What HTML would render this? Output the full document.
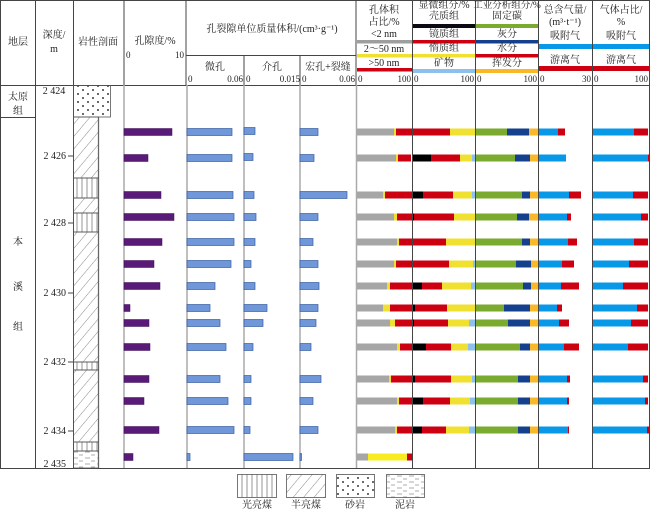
<!DOCTYPE html>
<html><head><meta charset="utf-8"><style>
body{margin:0;background:#fff}
svg{display:block;font-family:"Liberation Serif","Noto Serif CJK SC",serif}
text{font-size:10px;fill:#222}
.c{text-anchor:middle}
.e{text-anchor:end}
.s{font-size:9px}
</style></head><body>
<svg width="650" height="512" viewBox="0 0 650 512">
<defs>
<pattern id="hat" width="8" height="8" patternUnits="userSpaceOnUse" patternTransform="rotate(40)"><line x1="0" y1="0" x2="0" y2="8" stroke="#555" stroke-width="0.7"/></pattern>
<pattern id="vert" width="5" height="10" patternUnits="userSpaceOnUse"><line x1="2" y1="0" x2="2" y2="10" stroke="#666" stroke-width="0.7"/></pattern>
<pattern id="dot" width="10" height="8" patternUnits="userSpaceOnUse"><circle cx="3" cy="2" r="0.9" fill="#000"/><circle cx="8" cy="6" r="0.9" fill="#000"/></pattern>
<pattern id="mud" width="12" height="6" patternUnits="userSpaceOnUse"><line x1="1" y1="2" x2="6" y2="2" stroke="#777" stroke-width="0.6"/><line x1="7" y1="5" x2="11" y2="5" stroke="#777" stroke-width="0.6"/></pattern>
</defs>
<!-- frame -->
<g stroke="#444" stroke-width="1" fill="none">
<line x1="0" y1="0.5" x2="650" y2="0.5"/>
<line x1="0.5" y1="0" x2="0.5" y2="468"/>
<line x1="649.5" y1="0" x2="649.5" y2="468"/>
<line x1="0" y1="85.5" x2="650" y2="85.5"/>
<line x1="0" y1="468.5" x2="650" y2="468.5"/>
<line x1="186" y1="55.5" x2="356" y2="55.5"/>
<line x1="0" y1="117.5" x2="35" y2="117.5"/>
<line x1="35.5" y1="0" x2="35.5" y2="468"/>
<line x1="73.5" y1="0" x2="73.5" y2="468"/>
<line x1="124" y1="0" x2="124" y2="85"/>
<line x1="186" y1="0" x2="186" y2="85"/>
<line x1="244" y1="55" x2="244" y2="85"/>
<line x1="300" y1="55" x2="300" y2="85"/>
<line x1="356" y1="0" x2="356" y2="85"/>
<line x1="412.5" y1="0" x2="412.5" y2="468"/>
<line x1="475.5" y1="0" x2="475.5" y2="468"/>
<line x1="538.5" y1="0" x2="538.5" y2="468"/>
<line x1="592.5" y1="0" x2="592.5" y2="468"/>
</g>
<g stroke="#aaa" stroke-width="1.5">
<line x1="124" y1="85" x2="124" y2="468"/>
<line x1="187" y1="85" x2="187" y2="468"/>
<line x1="244" y1="85" x2="244" y2="468"/>
<line x1="300" y1="85" x2="300" y2="468"/>
<line x1="356.5" y1="85" x2="356.5" y2="468"/>
<line x1="98.5" y1="117" x2="98.5" y2="468"/>
</g>
<!-- header text -->
<text x="18" y="45" class="c">地层</text>
<text x="54" y="38" class="c">深度/</text>
<text x="54" y="52" class="c">m</text>
<text x="98" y="45" class="c">岩性剖面</text>
<text x="155" y="44" class="c">孔隙度/%</text>
<text x="126" y="58" class="s">0</text><text x="184" y="58" class="e s">10</text>
<text x="272" y="32" class="c">孔裂隙单位质量体积/(cm³·g⁻¹)</text>
<text x="215" y="70" class="c">微孔</text>
<text x="272" y="70" class="c">介孔</text>
<text x="328" y="70" class="c">宏孔+裂缝</text>
<text x="188" y="82" class="s">0</text><text x="243" y="82" class="e s">0.06</text>
<text x="246" y="82" class="s">0</text><text x="300" y="82" class="e s">0.015</text>
<text x="302" y="82" class="s">0</text><text x="355" y="82" class="e s">0.06</text>
<!-- pore pct header -->
<text x="384" y="13" class="c">孔体积</text>
<text x="384" y="25" class="c">占比/%</text>
<text x="384" y="37" class="c">&lt;2 nm</text>
<rect x="357" y="40" width="55" height="3.5" fill="#9e9e9e"/>
<text x="384" y="52" class="c">2～50 nm</text>
<rect x="357" y="54" width="55" height="3.5" fill="#f0e030"/>
<text x="384" y="66" class="c">&gt;50 nm</text>
<rect x="357" y="68" width="55" height="3.5" fill="#cc0010"/>
<text x="358" y="82" class="s">0</text><text x="411" y="82" class="e s">100</text>
<!-- maceral header -->
<text x="444" y="8" class="c">显微组分/%</text>
<text x="444" y="19" class="c">壳质组</text>
<rect x="413" y="24" width="62" height="4" fill="#0a0a14"/>
<text x="444" y="37" class="c">镜质组</text>
<rect x="413" y="40" width="62" height="3.5" fill="#cc0010"/>
<text x="444" y="51" class="c">惰质组</text>
<rect x="413" y="54" width="62" height="3.5" fill="#f0e030"/>
<text x="444" y="66" class="c">矿物</text>
<rect x="413" y="69" width="62" height="4" fill="#8ec0ee"/>
<text x="414" y="82" class="s">0</text><text x="474" y="82" class="e s">100</text>
<!-- industrial header -->
<text x="507" y="8" class="c" style="font-size:9.5px">工业分析组分/%</text>
<text x="507" y="19" class="c">固定碳</text>
<rect x="476" y="24" width="62" height="4" fill="#7aaa2e"/>
<text x="507" y="37" class="c">灰分</text>
<rect x="476" y="40" width="62" height="3.5" fill="#15408e"/>
<text x="507" y="51" class="c">水分</text>
<rect x="476" y="54" width="62" height="3.5" fill="#cc0010"/>
<text x="507" y="66" class="c">挥发分</text>
<rect x="476" y="69" width="62" height="4" fill="#f8b828"/>
<text x="477" y="82" class="s">0</text><text x="537" y="82" class="e s">100</text>
<!-- gas content header -->
<text x="565" y="13" class="c">总含气量/</text>
<text x="565" y="25" class="c">(m³·t⁻¹)</text>
<text x="565" y="39" class="c">吸附气</text>
<rect x="539" y="44" width="53" height="5" fill="#0898e8"/>
<text x="565" y="63" class="c">游离气</text>
<rect x="539" y="66" width="53" height="5" fill="#cc0010"/>
<text x="540" y="82" class="s">0</text><text x="591" y="82" class="e s">30</text>
<text x="621" y="13" class="c">气体占比/</text>
<text x="621" y="25" class="c">%</text>
<text x="621" y="39" class="c">吸附气</text>
<rect x="593" y="44" width="56" height="5" fill="#0898e8"/>
<text x="621" y="63" class="c">游离气</text>
<rect x="593" y="66" width="56" height="5" fill="#cc0010"/>
<text x="594" y="82" class="s">0</text><text x="648" y="82" class="e s">100</text>
<!-- strata -->
<text x="18" y="100" class="c">太原</text>
<text x="18" y="114" class="c">组</text>
<text x="18" y="245" class="c">本</text>
<text x="18" y="290" class="c">溪</text>
<text x="18" y="330" class="c">组</text>
<!-- depth -->
<g stroke="#444"><line x1="68" y1="156" x2="73" y2="156"/><line x1="68" y1="223" x2="73" y2="223"/><line x1="68" y1="293" x2="73" y2="293"/><line x1="68" y1="362" x2="73" y2="362"/><line x1="68" y1="431" x2="73" y2="431"/></g>
<text x="54" y="94" class="c">2 424</text>
<text x="66" y="159" class="e">2 426</text>
<text x="66" y="226" class="e">2 428</text>
<text x="66" y="296" class="e">2 430</text>
<text x="66" y="365" class="e">2 432</text>
<text x="66" y="434" class="e">2 434</text>
<text x="66" y="467" class="e">2 435</text>
<!-- lithology -->
<g stroke="#555" stroke-width="0.8">
<rect x="73.5" y="85.5" width="37" height="31.5" fill="url(#dot)"/>
<rect x="73.5" y="117" width="25" height="61" fill="url(#hat)"/>
<rect x="73.5" y="178" width="25" height="20" fill="url(#vert)"/>
<rect x="73.5" y="198" width="25" height="15" fill="url(#hat)"/>
<rect x="73.5" y="213" width="25" height="19" fill="url(#vert)"/>
<rect x="73.5" y="232" width="25" height="130" fill="url(#hat)"/>
<rect x="73.5" y="362" width="25" height="8" fill="url(#vert)"/>
<rect x="73.5" y="370" width="25" height="72" fill="url(#hat)"/>
<rect x="73.5" y="442" width="25" height="9" fill="url(#vert)"/>
<rect x="73.5" y="451" width="25" height="17" fill="url(#mud)"/>
</g>
<!-- porosity bars -->
<g fill="#5a1a78" stroke="#3a0e55" stroke-width="0.5">
<rect x="124" y="128.5" width="48" height="7"/><rect x="124" y="154.5" width="24" height="7"/>
<rect x="124" y="191.5" width="37" height="7"/><rect x="124" y="213.5" width="50" height="7"/>
<rect x="124" y="238.5" width="38" height="7"/><rect x="124" y="260.5" width="30" height="7"/>
<rect x="124" y="282.5" width="36" height="7"/><rect x="124" y="304.5" width="6" height="7"/>
<rect x="124" y="319.5" width="25" height="7"/><rect x="124" y="343.5" width="26" height="7"/>
<rect x="124" y="375.5" width="25" height="7"/><rect x="124" y="397.5" width="20" height="7"/>
<rect x="124" y="426.5" width="35" height="7"/><rect x="124" y="453.5" width="9" height="7"/>
</g>
<g fill="#6f97d9" stroke="#3a5fa0" stroke-width="0.7">
<rect x="187" y="128.5" width="45" height="7"/><rect x="187" y="154.5" width="45" height="7"/>
<rect x="187" y="191.5" width="46" height="7"/><rect x="187" y="213.5" width="47" height="7"/>
<rect x="187" y="238.5" width="47" height="7"/><rect x="187" y="260.5" width="44" height="7"/>
<rect x="187" y="282.5" width="28" height="7"/><rect x="187" y="304.5" width="23" height="7"/>
<rect x="187" y="319.5" width="33" height="7"/><rect x="187" y="343.5" width="39" height="7"/>
<rect x="187" y="375.5" width="33" height="7"/><rect x="187" y="397.5" width="41" height="7"/>
<rect x="187" y="426.5" width="47" height="7"/><rect x="187" y="453.5" width="3" height="7"/>
<rect x="244" y="127.5" width="11" height="7"/><rect x="244" y="153.5" width="9" height="7"/>
<rect x="244" y="191.5" width="10" height="7"/><rect x="244" y="213.5" width="12" height="7"/>
<rect x="244" y="238.5" width="11" height="7"/><rect x="244" y="260.5" width="7" height="7"/>
<rect x="244" y="282.5" width="11" height="7"/><rect x="244" y="304.5" width="23" height="7"/>
<rect x="244" y="319.5" width="19" height="7"/><rect x="244" y="343.5" width="9" height="7"/>
<rect x="244" y="375.5" width="7" height="7"/><rect x="244" y="397.5" width="7" height="7"/>
<rect x="244" y="426.5" width="6" height="7"/><rect x="244" y="453.5" width="49" height="7"/>
<rect x="300" y="128.5" width="18" height="7"/><rect x="300" y="154.5" width="14" height="7"/>
<rect x="300" y="191.5" width="47" height="7"/><rect x="300" y="213.5" width="18" height="7"/>
<rect x="300" y="238.5" width="13" height="7"/><rect x="300" y="260.5" width="18" height="7"/>
<rect x="300" y="282.5" width="19" height="7"/><rect x="300" y="304.5" width="18" height="7"/>
<rect x="300" y="319.5" width="16" height="7"/><rect x="300" y="343.5" width="11" height="7"/>
<rect x="300" y="375.5" width="21" height="7"/><rect x="300" y="397.5" width="13" height="7"/>
<rect x="300" y="426.5" width="18" height="7"/><rect x="300" y="453.5" width="1.5" height="7"/>
</g>
<!-- pore pct bars: grey, yellow, red -->
<g>
<rect x="357" y="128.5" width="37" height="7" fill="#a6a6a6"/><rect x="394" y="128.5" width="2" height="7" fill="#f0e030"/><rect x="396" y="128.5" width="16" height="7" fill="#cc0010"/>
<rect x="357" y="154.5" width="39" height="7" fill="#a6a6a6"/><rect x="396" y="154.5" width="2" height="7" fill="#f0e030"/><rect x="398" y="154.5" width="13" height="7" fill="#cc0010"/>
<rect x="357" y="191.5" width="26" height="7" fill="#a6a6a6"/><rect x="383" y="191.5" width="2" height="7" fill="#f0e030"/><rect x="385" y="191.5" width="27" height="7" fill="#cc0010"/>
<rect x="357" y="213.5" width="37" height="7" fill="#a6a6a6"/><rect x="394" y="213.5" width="3" height="7" fill="#f0e030"/><rect x="397" y="213.5" width="15" height="7" fill="#cc0010"/>
<rect x="357" y="238.5" width="40" height="7" fill="#a6a6a6"/><rect x="397" y="238.5" width="2" height="7" fill="#f0e030"/><rect x="399" y="238.5" width="13" height="7" fill="#cc0010"/>
<rect x="357" y="260.5" width="37" height="7" fill="#a6a6a6"/><rect x="394" y="260.5" width="2" height="7" fill="#f0e030"/><rect x="396" y="260.5" width="16" height="7" fill="#cc0010"/>
<rect x="357" y="282.5" width="30" height="7" fill="#a6a6a6"/><rect x="387" y="282.5" width="3" height="7" fill="#f0e030"/><rect x="390" y="282.5" width="22" height="7" fill="#cc0010"/>
<rect x="357" y="304.5" width="26" height="7" fill="#a6a6a6"/><rect x="383" y="304.5" width="7" height="7" fill="#f0e030"/><rect x="390" y="304.5" width="22" height="7" fill="#cc0010"/>
<rect x="357" y="319.5" width="33" height="7" fill="#a6a6a6"/><rect x="390" y="319.5" width="5" height="7" fill="#f0e030"/><rect x="395" y="319.5" width="17" height="7" fill="#cc0010"/>
<rect x="357" y="343.5" width="40" height="7" fill="#a6a6a6"/><rect x="397" y="343.5" width="3" height="7" fill="#f0e030"/><rect x="400" y="343.5" width="12" height="7" fill="#cc0010"/>
<rect x="357" y="375.5" width="32" height="7" fill="#a6a6a6"/><rect x="389" y="375.5" width="2" height="7" fill="#f0e030"/><rect x="391" y="375.5" width="21" height="7" fill="#cc0010"/>
<rect x="357" y="397.5" width="40" height="7" fill="#a6a6a6"/><rect x="397" y="397.5" width="2" height="7" fill="#f0e030"/><rect x="399" y="397.5" width="13" height="7" fill="#cc0010"/>
<rect x="357" y="426.5" width="38" height="7" fill="#a6a6a6"/><rect x="395" y="426.5" width="2" height="7" fill="#f0e030"/><rect x="397" y="426.5" width="15" height="7" fill="#cc0010"/>
<rect x="357" y="453.5" width="11" height="7" fill="#a6a6a6"/><rect x="368" y="453.5" width="39" height="7" fill="#f8ec20"/><rect x="407" y="453.5" width="5" height="7" fill="#cc0010"/>
</g>
<!-- maceral bars -->
<g>
<rect x="413" y="128.5" width="37" height="7" fill="#cc0010"/><rect x="450" y="128.5" width="25" height="7" fill="#f0e030"/>
<rect x="413" y="154.5" width="18" height="7" fill="#000"/><rect x="431" y="154.5" width="29" height="7" fill="#cc0010"/><rect x="460" y="154.5" width="12" height="7" fill="#f0e030"/><rect x="472" y="154.5" width="3" height="7" fill="#8ec0ee"/>
<rect x="413" y="191.5" width="10" height="7" fill="#000"/><rect x="423" y="191.5" width="30" height="7" fill="#cc0010"/><rect x="453" y="191.5" width="19" height="7" fill="#f0e030"/><rect x="472" y="191.5" width="3" height="7" fill="#8ec0ee"/>
<rect x="413" y="213.5" width="1" height="7" fill="#000"/><rect x="414" y="213.5" width="40" height="7" fill="#cc0010"/><rect x="454" y="213.5" width="21" height="7" fill="#f0e030"/>
<rect x="413" y="238.5" width="33" height="7" fill="#cc0010"/><rect x="446" y="238.5" width="29" height="7" fill="#f0e030"/>
<rect x="413" y="260.5" width="36" height="7" fill="#cc0010"/><rect x="449" y="260.5" width="24" height="7" fill="#f0e030"/><rect x="473" y="260.5" width="2" height="7" fill="#8ec0ee"/>
<rect x="413" y="282.5" width="9" height="7" fill="#000"/><rect x="422" y="282.5" width="20" height="7" fill="#cc0010"/><rect x="442" y="282.5" width="29" height="7" fill="#f0e030"/><rect x="471" y="282.5" width="4" height="7" fill="#8ec0ee"/>
<rect x="413" y="304.5" width="2" height="7" fill="#000"/><rect x="415" y="304.5" width="32" height="7" fill="#cc0010"/><rect x="447" y="304.5" width="28" height="7" fill="#f0e030"/>
<rect x="413" y="319.5" width="1" height="7" fill="#000"/><rect x="414" y="319.5" width="34" height="7" fill="#cc0010"/><rect x="448" y="319.5" width="21" height="7" fill="#f0e030"/><rect x="469" y="319.5" width="6" height="7" fill="#8ec0ee"/>
<rect x="413" y="343.5" width="13" height="7" fill="#000"/><rect x="426" y="343.5" width="25" height="7" fill="#cc0010"/><rect x="451" y="343.5" width="17" height="7" fill="#f0e030"/><rect x="468" y="343.5" width="7" height="7" fill="#8ec0ee"/>
<rect x="413" y="375.5" width="2" height="7" fill="#000"/><rect x="415" y="375.5" width="36" height="7" fill="#cc0010"/><rect x="451" y="375.5" width="21" height="7" fill="#f0e030"/><rect x="472" y="375.5" width="3" height="7" fill="#8ec0ee"/>
<rect x="413" y="397.5" width="10" height="7" fill="#000"/><rect x="423" y="397.5" width="27" height="7" fill="#cc0010"/><rect x="450" y="397.5" width="20" height="7" fill="#f0e030"/><rect x="470" y="397.5" width="5" height="7" fill="#8ec0ee"/>
<rect x="413" y="426.5" width="9" height="7" fill="#000"/><rect x="422" y="426.5" width="24" height="7" fill="#cc0010"/><rect x="446" y="426.5" width="23" height="7" fill="#f0e030"/><rect x="469" y="426.5" width="6" height="7" fill="#8ec0ee"/>
</g>
<!-- industrial bars -->
<g>
<rect x="476" y="128.5" width="31" height="7" fill="#7aaa2e"/><rect x="507" y="128.5" width="22" height="7" fill="#15408e"/><rect x="529" y="128.5" width="9" height="7" fill="#f8b828"/>
<rect x="476" y="154.5" width="39" height="7" fill="#7aaa2e"/><rect x="515" y="154.5" width="15" height="7" fill="#15408e"/><rect x="530" y="154.5" width="8" height="7" fill="#f8b828"/>
<rect x="476" y="191.5" width="46" height="7" fill="#7aaa2e"/><rect x="522" y="191.5" width="8" height="7" fill="#15408e"/><rect x="530" y="191.5" width="8" height="7" fill="#f8b828"/>
<rect x="476" y="213.5" width="41" height="7" fill="#7aaa2e"/><rect x="517" y="213.5" width="12" height="7" fill="#15408e"/><rect x="529" y="213.5" width="9" height="7" fill="#f8b828"/>
<rect x="476" y="238.5" width="46" height="7" fill="#7aaa2e"/><rect x="522" y="238.5" width="8" height="7" fill="#15408e"/><rect x="530" y="238.5" width="8" height="7" fill="#f8b828"/>
<rect x="476" y="260.5" width="40" height="7" fill="#7aaa2e"/><rect x="516" y="260.5" width="15" height="7" fill="#15408e"/><rect x="531" y="260.5" width="7" height="7" fill="#f8b828"/>
<rect x="476" y="282.5" width="47" height="7" fill="#7aaa2e"/><rect x="523" y="282.5" width="8" height="7" fill="#15408e"/><rect x="531" y="282.5" width="7" height="7" fill="#f8b828"/>
<rect x="476" y="304.5" width="28" height="7" fill="#7aaa2e"/><rect x="504" y="304.5" width="26" height="7" fill="#15408e"/><rect x="530" y="304.5" width="8" height="7" fill="#f8b828"/>
<rect x="476" y="319.5" width="32" height="7" fill="#7aaa2e"/><rect x="508" y="319.5" width="22" height="7" fill="#15408e"/><rect x="530" y="319.5" width="8" height="7" fill="#f8b828"/>
<rect x="476" y="343.5" width="44" height="7" fill="#7aaa2e"/><rect x="520" y="343.5" width="10" height="7" fill="#15408e"/><rect x="530" y="343.5" width="8" height="7" fill="#f8b828"/>
<rect x="476" y="375.5" width="42" height="7" fill="#7aaa2e"/><rect x="518" y="375.5" width="12" height="7" fill="#15408e"/><rect x="530" y="375.5" width="8" height="7" fill="#f8b828"/>
<rect x="476" y="397.5" width="42" height="7" fill="#7aaa2e"/><rect x="518" y="397.5" width="12" height="7" fill="#15408e"/><rect x="530" y="397.5" width="8" height="7" fill="#f8b828"/>
<rect x="476" y="426.5" width="42" height="7" fill="#7aaa2e"/><rect x="518" y="426.5" width="12" height="7" fill="#15408e"/><rect x="530" y="426.5" width="8" height="7" fill="#f8b828"/>
</g>
<!-- gas content -->
<g>
<rect x="539" y="128.5" width="19" height="7" fill="#0898e8"/><rect x="558" y="128.5" width="7" height="7" fill="#cc0010"/>
<rect x="539" y="154.5" width="27" height="7" fill="#0898e8"/>
<rect x="539" y="191.5" width="30" height="7" fill="#0898e8"/><rect x="569" y="191.5" width="12" height="7" fill="#cc0010"/>
<rect x="539" y="213.5" width="28" height="7" fill="#0898e8"/><rect x="567" y="213.5" width="4" height="7" fill="#cc0010"/>
<rect x="539" y="238.5" width="29" height="7" fill="#0898e8"/><rect x="568" y="238.5" width="9" height="7" fill="#cc0010"/>
<rect x="539" y="260.5" width="23" height="7" fill="#0898e8"/><rect x="562" y="260.5" width="12" height="7" fill="#cc0010"/>
<rect x="539" y="282.5" width="22" height="7" fill="#0898e8"/><rect x="561" y="282.5" width="18" height="7" fill="#cc0010"/>
<rect x="539" y="304.5" width="18" height="7" fill="#0898e8"/><rect x="557" y="304.5" width="5" height="7" fill="#cc0010"/>
<rect x="539" y="319.5" width="20" height="7" fill="#0898e8"/><rect x="559" y="319.5" width="10" height="7" fill="#cc0010"/>
<rect x="539" y="343.5" width="25" height="7" fill="#0898e8"/><rect x="564" y="343.5" width="15" height="7" fill="#cc0010"/>
<rect x="539" y="375.5" width="28" height="7" fill="#0898e8"/><rect x="567" y="375.5" width="3" height="7" fill="#cc0010"/>
<rect x="539" y="397.5" width="28" height="7" fill="#0898e8"/><rect x="567" y="397.5" width="2" height="7" fill="#cc0010"/>
<rect x="539" y="426.5" width="29" height="7" fill="#0898e8"/><rect x="568" y="426.5" width="1" height="7" fill="#cc0010"/>
</g>
<!-- gas pct -->
<g>
<rect x="593" y="128.5" width="41" height="7" fill="#0898e8"/><rect x="634" y="128.5" width="14" height="7" fill="#cc0010"/>
<rect x="593" y="154.5" width="55" height="7" fill="#0898e8"/><rect x="648" y="154.5" width="1" height="7" fill="#cc0010"/>
<rect x="593" y="191.5" width="40" height="7" fill="#0898e8"/><rect x="633" y="191.5" width="15" height="7" fill="#cc0010"/>
<rect x="593" y="213.5" width="48" height="7" fill="#0898e8"/><rect x="641" y="213.5" width="7" height="7" fill="#cc0010"/>
<rect x="593" y="238.5" width="41" height="7" fill="#0898e8"/><rect x="634" y="238.5" width="14" height="7" fill="#cc0010"/>
<rect x="593" y="260.5" width="36" height="7" fill="#0898e8"/><rect x="629" y="260.5" width="19" height="7" fill="#cc0010"/>
<rect x="593" y="282.5" width="30" height="7" fill="#0898e8"/><rect x="623" y="282.5" width="25" height="7" fill="#cc0010"/>
<rect x="593" y="304.5" width="44" height="7" fill="#0898e8"/><rect x="637" y="304.5" width="11" height="7" fill="#cc0010"/>
<rect x="593" y="319.5" width="38" height="7" fill="#0898e8"/><rect x="631" y="319.5" width="17" height="7" fill="#cc0010"/>
<rect x="593" y="343.5" width="35" height="7" fill="#0898e8"/><rect x="628" y="343.5" width="20" height="7" fill="#cc0010"/>
<rect x="593" y="375.5" width="50" height="7" fill="#0898e8"/><rect x="643" y="375.5" width="5" height="7" fill="#cc0010"/>
<rect x="593" y="397.5" width="52" height="7" fill="#0898e8"/><rect x="645" y="397.5" width="3" height="7" fill="#cc0010"/>
<rect x="593" y="426.5" width="54" height="7" fill="#0898e8"/><rect x="647" y="426.5" width="2" height="7" fill="#cc0010"/>
</g>
<!-- legend -->
<g stroke="#555" stroke-width="0.8">
<rect x="237.5" y="474.5" width="39" height="23" fill="url(#vert)"/>
<rect x="286.5" y="474.5" width="39" height="23" fill="url(#hat)"/>
<rect x="336.5" y="474.5" width="38" height="23" fill="url(#dot)"/>
<rect x="386.5" y="474.5" width="38" height="23" fill="url(#mud)"/>
</g>
<text x="257" y="508" class="c">光亮煤</text>
<text x="306" y="508" class="c">半亮煤</text>
<text x="355" y="508" class="c">砂岩</text>
<text x="405" y="508" class="c">泥岩</text>
</svg>
</body></html>
